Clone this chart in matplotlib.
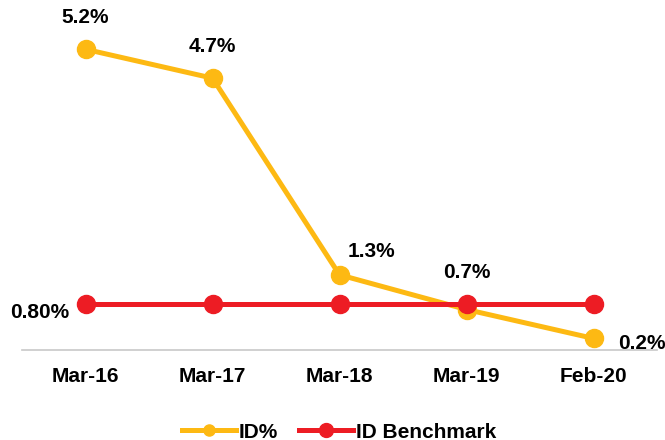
import matplotlib.pyplot as plt
from matplotlib.lines import Line2D

plt.rcParams['font.family'] = ['Liberation Sans', 'DejaVu Sans']
plt.rcParams['font.weight'] = 'bold'

periods = ['Mar-16', 'Mar-17', 'Mar-18', 'Mar-19', 'Feb-20']
id_pct = [5.2, 4.7, 1.3, 0.7, 0.2]
benchmark = [0.8, 0.8, 0.8, 0.8, 0.8]
id_labels = ['5.2%', '4.7%', '1.3%', '0.7%', '0.2%']
bench_label = '0.80%'

gold = '#FDB913'
red = '#ED1C24'

fig = plt.figure(figsize=(6.65, 4.4), dpi=100)
ax = fig.add_axes([22 / 665, 1 - 350 / 440, 635 / 665, 347 / 440])

x = list(range(len(periods)))
ax.plot(x, id_pct, color=gold, lw=3.6, marker='o', ms=13, zorder=3)
ax.plot(x, benchmark, color=red, lw=3.6, marker='o', ms=13, zorder=4)

# value labels
offsets = [(0, 23, 'center'), (0, 23, 'center'), (6, 17, 'left'), (0, 27, 'center'), (18, -4, 'left')]
for xi, v, lab, (dx, dy, ha) in zip(x, id_pct, id_labels, offsets):
    ax.annotate(lab, (xi, v), xytext=(dx, dy), textcoords='offset points',
                ha=ha, va='center', fontsize=15, fontweight='bold')
ax.annotate(bench_label, (x[0], benchmark[0]), xytext=(-12, -6), textcoords='offset points',
            ha='right', va='center', fontsize=15, fontweight='bold')

ax.set_xlim(-0.5, len(periods) - 0.5)
ax.set_ylim(0, 6)
ax.set_xticks(x)
ax.set_xticklabels(periods, fontsize=15, fontweight='bold')
ax.tick_params(axis='x', length=0, pad=12)
ax.set_yticks([])
for side in ['top', 'right', 'left']:
    ax.spines[side].set_visible(False)
ax.spines['bottom'].set_color('#C8C8C8')
ax.spines['bottom'].set_linewidth(1.2)
ax.set_clip_on(False)
for ln in ax.lines:
    ln.set_clip_on(False)

handles = [Line2D([], [], color=gold, lw=3.6, marker='o', ms=8),
           Line2D([], [], color=red, lw=3.6, marker='o', ms=10)]
fig.legend(handles, ['ID%', 'ID Benchmark'], loc='center', bbox_to_anchor=(0.51, 1 - 432 / 440),
           ncol=2, frameon=False, fontsize=15, handlelength=2.6, handletextpad=0.15,
           columnspacing=1.0, borderpad=0)

fig.savefig('out.png', dpi=100)
